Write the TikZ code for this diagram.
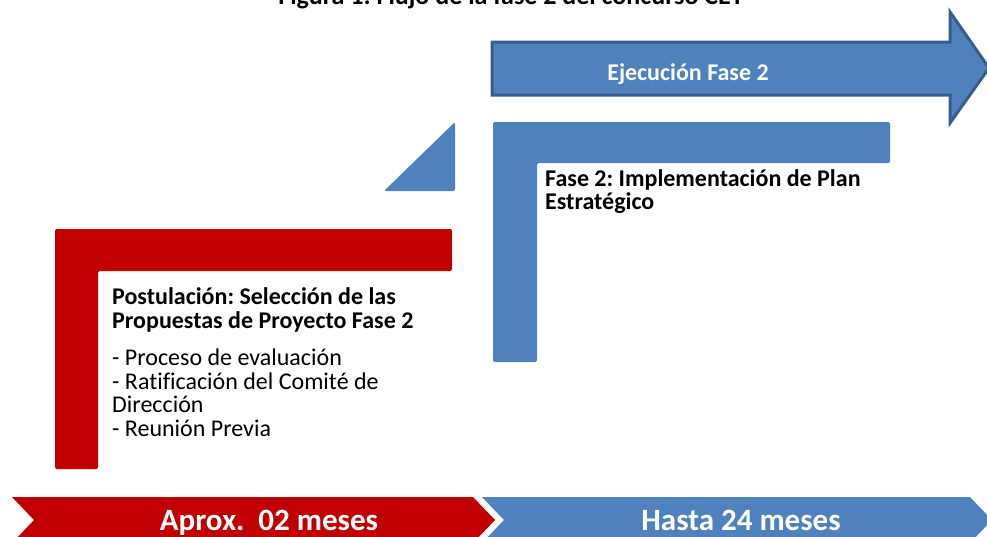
\documentclass[tikz,border=0pt]{standalone}
\usepackage{fontspec}
\setmainfont{Carlito}[Ligatures=NoCommon]
\frenchspacing
\usetikzlibrary{positioning}
\definecolor{rojo}{HTML}{C00000}
\definecolor{azul}{HTML}{4F81BD}
\definecolor{azulborde}{HTML}{385D8A}

\begin{document}
\begin{tikzpicture}[x=1pt,y=-1pt,inner sep=0pt]
        \tikzstyle{texto}=[anchor=base west,font=\fontsize{24}{24}\selectfont]
        \tikzstyle{negrita}=[anchor=base west,font=\fontsize{24}{24}\selectfont\bfseries]
        \tikzstyle{galon}=[anchor=base,text=white,font=\fontsize{31}{31}\selectfont\bfseries]
        \tikzstyle{bloque}=[rounded corners=2pt]

        \clip (0,0) rectangle (987,536);

        % titulo
        \node[anchor=base,font=\fontsize{26}{26}\selectfont\bfseries] (titulo) at (511,4)
              {Figura 1: Flujo de la fase 2 del concurso CET};

        % flecha de ejecucion
        \draw[fill=azul,draw=azulborde,line width=3pt,line join=miter]
              (492,42) -- (950,42) -- (950,12) -- (989,68) -- (950,123) -- (950,95) -- (492,95) -- cycle;
        \node[anchor=base,text=white,font=\fontsize{24}{24}\selectfont\bfseries] (ejec) at (688,80)
              {Ejecución Fase 2};

        % escalones
        \fill[azul,bloque] (384,191) -- (455,122) -- (455,191) -- cycle;
        \fill[azul,bloque] (493,122) -- (890,122) -- (890,163) -- (537,163) -- (537,362) -- (493,362) -- cycle;
        \fill[rojo,bloque] (55,229) -- (452,229) -- (452,271) -- (98,271) -- (98,469) -- (55,469) -- cycle;

        \node[negrita] (F2a) at (545,186) {Fase 2: Implementación de Plan};
        \node[negrita] (F2b) at (545,209) {Estratégico};

        \node[negrita] (P1) at (112,304) {Postulación: Selección de las};
        \node[negrita] (P2) at (112,328) {Propuestas de Proyecto Fase 2};
        \node[texto]   (L1) at (112,365) {- Proceso de evaluación};
        \node[texto]   (L2) at (112,389) {- Ratificación del Comité de};
        \node[texto]   (L3) at (112,412) {Dirección};
        \node[texto]   (L4) at (112,436) {- Reunión Previa};

        % plazos
        \fill[rojo] (12,497) -- (473,497) -- (495,520) -- (473,543) -- (12,543) -- (34,520) -- cycle;
        \fill[azul] (482,497) -- (970,497) -- (992,520) -- (970,543) -- (482,543) -- (504,520) -- cycle;
        \node[galon] (T1) at (269,530) {Aprox.\ \ 02 meses};
        \node[galon] (T2) at (741,530) {Hasta 24 meses};
\end{tikzpicture}
\end{document}
